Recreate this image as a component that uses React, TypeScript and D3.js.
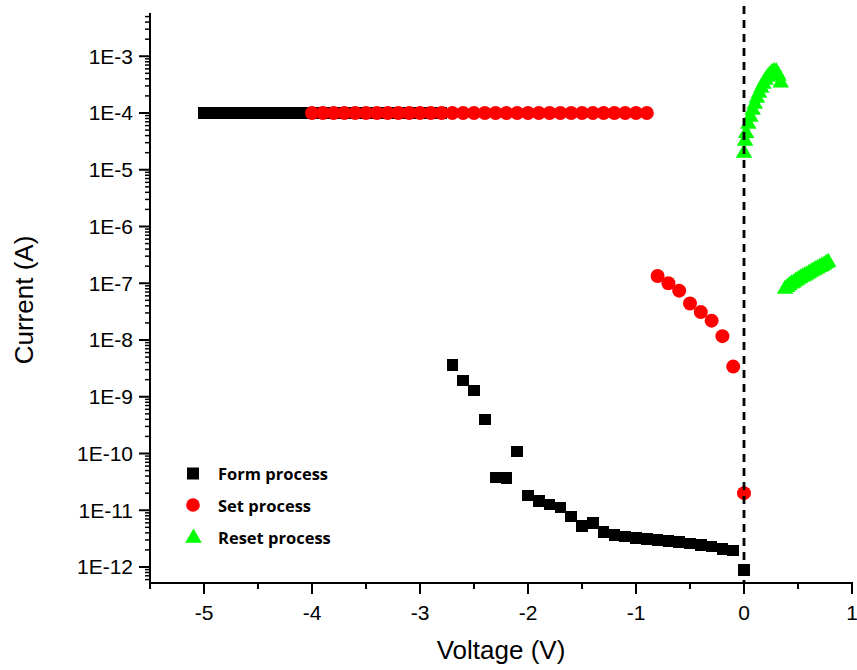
import React from "react";
import * as d3 from "d3";

// ---- Data ----
const formV = [
  -5.0, -4.9, -4.8, -4.7, -4.6, -4.5, -4.4, -4.3, -4.2, -4.1, -4.0, -3.9, -3.8, -3.7, -3.6, -3.5,
  -3.4, -3.3, -3.2, -3.1, -3.0, -2.9, -2.8,
  -2.7, -2.6, -2.5, -2.4, -2.3, -2.2, -2.1, -2.0, -1.9, -1.8, -1.7, -1.6, -1.5, -1.4, -1.3,
  -1.2, -1.1, -1.0, -0.9, -0.8, -0.7, -0.6, -0.5, -0.4, -0.3, -0.2, -0.1, 0.0,
];
const formI = [
  1e-4, 1e-4, 1e-4, 1e-4, 1e-4, 1e-4, 1e-4, 1e-4, 1e-4, 1e-4, 1e-4, 1e-4, 1e-4, 1e-4, 1e-4, 1e-4,
  1e-4, 1e-4, 1e-4, 1e-4, 1e-4, 1e-4, 1e-4,
  3.63e-9, 1.92e-9, 1.28e-9, 4.0e-10, 3.75e-11, 3.66e-11, 1.08e-10, 1.83e-11, 1.46e-11, 1.27e-11,
  1.11e-11, 7.7e-12, 5.3e-12, 5.9e-12, 4.1e-12, 3.66e-12, 3.42e-12, 3.28e-12, 3.11e-12, 2.99e-12,
  2.87e-12, 2.76e-12, 2.58e-12, 2.44e-12, 2.28e-12, 2.1e-12, 1.94e-12, 8.9e-13,
];

const setV = [
  -4.0, -3.9, -3.8, -3.7, -3.6, -3.5, -3.4, -3.3, -3.2, -3.1, -3.0, -2.9, -2.8, -2.7, -2.6, -2.5,
  -2.4, -2.3, -2.2, -2.1, -2.0, -1.9, -1.8, -1.7, -1.6, -1.5, -1.4, -1.3, -1.2, -1.1, -1.0, -0.9,
  -0.8, -0.7, -0.6, -0.5, -0.4, -0.3, -0.2, -0.1, 0.0,
];
const setI = [
  1e-4, 1e-4, 1e-4, 1e-4, 1e-4, 1e-4, 1e-4, 1e-4, 1e-4, 1e-4, 1e-4, 1e-4, 1e-4, 1e-4, 1e-4, 1e-4,
  1e-4, 1e-4, 1e-4, 1e-4, 1e-4, 1e-4, 1e-4, 1e-4, 1e-4, 1e-4, 1e-4, 1e-4, 1e-4, 1e-4, 1e-4, 1e-4,
  1.34e-7, 1.0e-7, 7.4e-8, 4.4e-8, 3.1e-8, 2.19e-8, 1.17e-8, 3.4e-9, 2.0e-11,
];

const resetV = [
  0.0, 0.01, 0.02, 0.04, 0.06, 0.08, 0.1, 0.12, 0.14, 0.16, 0.18, 0.2, 0.22, 0.24, 0.26, 0.28,
  0.3, 0.32, 0.34,
  0.38, 0.4, 0.42, 0.44, 0.46, 0.48, 0.5, 0.52, 0.54, 0.56, 0.58, 0.6, 0.62, 0.64, 0.66, 0.68,
  0.7, 0.72, 0.74, 0.76, 0.78,
];
const resetI = [
  1.97e-5, 3.2e-5, 4.4e-5, 6.4e-5, 8.5e-5, 1.13e-4, 1.44e-4, 1.84e-4, 2.25e-4, 2.76e-4, 3.25e-4,
  3.82e-4, 4.3e-4, 4.77e-4, 5.2e-4, 5.4e-4, 5.3e-4, 4.5e-4, 3.4e-4,
  7.9e-8, 8.5e-8, 9.1e-8, 9.8e-8, 1.02e-7, 1.1e-7, 1.15e-7, 1.23e-7, 1.29e-7, 1.35e-7, 1.41e-7,
  1.48e-7, 1.58e-7, 1.66e-7, 1.74e-7, 1.82e-7, 1.91e-7, 2.0e-7, 2.09e-7, 2.24e-7, 2.34e-7,
];

const xTicks = [-5, -4, -3, -2, -1, 0, 1];
const yTickExps = [-3, -4, -5, -6, -7, -8, -9, -10, -11, -12];
const legendLabels = ["Form process", "Set process", "Reset process"];

const W = 857;
const H = 670;

export default function App() {
  const x = d3.scaleLinear().domain([-5.5, 1]).range([150, 852]);
  const y = d3
    .scaleLog()
    .domain([Math.pow(10, -12.282), Math.pow(10, -2.238)])
    .range([583, 13]);

  const tickFont = "'Liberation Sans', Arial, sans-serif";

  const xMinor = d3.range(-5.5, 1.01, 0.5).filter((v) => Math.abs(v - Math.round(v)) > 0.1);
  const yMinor: number[] = [];
  for (let e = -13; e <= -2; e++) {
    for (let m = 2; m <= 9; m++) {
      const v = m * Math.pow(10, e);
      const py = y(v);
      if (py >= 13 && py <= 583) yMinor.push(v);
    }
  }

  const sq = 11.6;
  const triPath = (cx: number, cy: number, s = 16.5) => {
    const h = s * 0.87;
    return `M${cx},${cy - (2 * h) / 3}L${cx + s / 2},${cy + h / 3}L${cx - s / 2},${cy + h / 3}Z`;
  };

  return (
    <svg width={W} height={H} style={{ display: "block", position: "absolute", left: 0, top: 0 }}>
      <rect width={W} height={H} fill="#fff" />

      {/* markers */}
      <g shapeRendering="crispEdges">
        {formV.map((v, i) => (
          <rect
            key={"f" + i}
            x={x(v) - sq / 2}
            y={y(formI[i]) - sq / 2}
            width={sq}
            height={sq}
            fill="#000"
          />
        ))}
      </g>
      <g>
        {setV.map((v, i) => (
          <circle key={"s" + i} cx={x(v)} cy={y(setI[i])} r={7} fill="#ff0000" />
        ))}
        {resetV.map((v, i) => (
          <path key={"r" + i} d={triPath(x(v), y(resetI[i]))} fill="#00ff00" />
        ))}
      </g>

      {/* dashed zero line */}
      <line
        x1={x(0)}
        x2={x(0)}
        y1={6}
        y2={583}
        stroke="#000"
        strokeWidth={2.8}
        strokeDasharray="8,6"
      />

      {/* axes */}
      <g stroke="#000" strokeWidth={2}>
        <line x1={150} x2={150} y1={13} y2={584} />
        <line x1={149} x2={853} y1={583} y2={583} />
        {xTicks.map((t) => (
          <line key={"xt" + t} x1={x(t)} x2={x(t)} y1={583} y2={594} />
        ))}
        {xMinor.map((t, i) => (
          <line key={"xm" + i} x1={x(t)} x2={x(t)} y1={583} y2={589} />
        ))}
        {yTickExps.map((e) => (
          <line key={"yt" + e} x1={139} x2={150} y1={y(Math.pow(10, e))} y2={y(Math.pow(10, e))} />
        ))}
        {yMinor.map((v, i) => (
          <line key={"ym" + i} x1={145} x2={150} y1={y(v)} y2={y(v)} strokeWidth={1.5} />
        ))}
      </g>

      {/* tick labels */}
      <g fontFamily={tickFont} fontSize={21} fill="#000">
        {xTicks.map((t) => (
          <text key={"xl" + t} x={x(t)} y={620} textAnchor="middle">
            {t}
          </text>
        ))}
        {yTickExps.map((e) => (
          <text key={"yl" + e} x={133} y={y(Math.pow(10, e)) + 7.5} textAnchor="end">
            {"1E" + e}
          </text>
        ))}
      </g>

      {/* axis titles */}
      <text x={501} y={659} textAnchor="middle" fontFamily={tickFont} fontSize={26} fill="#000">
        Voltage (V)
      </text>
      <text
        transform={`translate(33,300) rotate(-90)`}
        textAnchor="middle"
        fontFamily={tickFont}
        fontSize={26}
        fill="#000"
      >
        Current (A)
      </text>

      {/* legend */}
      <g fontFamily="'Open Sans', sans-serif" fontWeight={700} fontSize={16.5} fill="#000">
        <rect x={187} y={467.5} width={12} height={12} fill="#000" />
        <circle cx={193} cy={505} r={6.8} fill="#ff0000" />
        <path d={triPath(193.5, 538, 16.5)} fill="#00ff00" />
        {legendLabels.map((l, i) => (
          <text key={l} x={218} y={479.5 + i * 32.2}>
            {l}
          </text>
        ))}
      </g>
    </svg>
  );
}
